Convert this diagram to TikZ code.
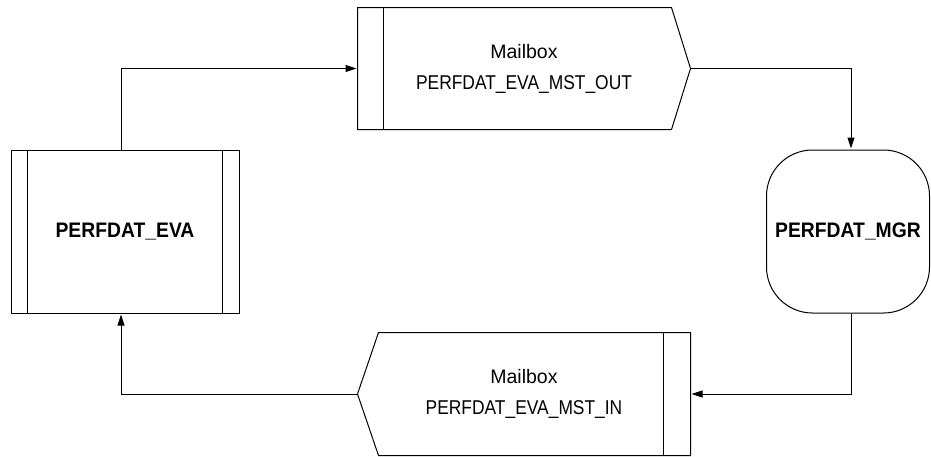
\documentclass[tikz,border=0pt]{standalone}
\usepackage{fontspec}
\usetikzlibrary{arrows.meta}
\newfontfamily\lblfont[FakeStretch=0.87]{Liberation Sans}
\newfontfamily\mbfont{Liberation Sans}
\newfontfamily\lblbold[FakeStretch=0.92]{Liberation Sans}
\newcommand{\mbword}{{\mbfont\fontsize{19.5}{31}\selectfont Mailbox}}
\begin{document}
\begin{tikzpicture}[x=1pt,y=-1pt,line width=1pt,
  procbox/.style={draw,rectangle,inner sep=0pt,minimum width=228pt,minimum height=163pt,
    font=\lblbold\bfseries\fontsize{21}{25}\selectfont},
  mgrbox/.style={draw,rectangle,rounded corners=46pt,inner sep=0pt,minimum width=163pt,minimum height=163pt,
    font=\lblbold\bfseries\fontsize{21}{25}\selectfont},
  mailbox/.style={rectangle,inner sep=0pt,minimum width=332pt,minimum height=121pt,align=center,
    font=\lblfont\fontsize{20}{31}\selectfont},
  arr/.style={-{Triangle[length=11pt,width=7pt]},shorten >=1pt}]
\useasboundingbox (0,0) rectangle (931,456);
% nodes
\node[procbox] (eva) at (125,231.5) {PERFDAT\_EVA};
\node[mgrbox] (mgr) at (848,231.5) {PERFDAT\_MGR};
\node[mailbox] (mbout) at (524,68.5) {\mbword\\PERFDAT\_EVA\_MST\_OUT};
\node[mailbox,minimum height=122pt] (mbin) at (524,394) {\mbword\\PERFDAT\_EVA\_MST\_IN};
% process box side bars
\draw ([xshift=17pt]eva.north west) -- ([xshift=17pt]eva.south west);
\draw ([xshift=-17pt]eva.north east) -- ([xshift=-17pt]eva.south east);
% outgoing mailbox outline
\draw (mbout.north west) -- ([xshift=-19pt]mbout.north east) -- (mbout.east)
  -- ([xshift=-19pt]mbout.south east) -- (mbout.south west) -- cycle;
\draw ([xshift=26pt]mbout.north west) -- ([xshift=26pt]mbout.south west);
% incoming mailbox outline
\draw (mbin.west) -- ([xshift=21pt]mbin.north west) -- (mbin.north east)
  -- (mbin.south east) -- ([xshift=21pt]mbin.south west) -- cycle;
\draw ([xshift=-27pt]mbin.north east) -- ([xshift=-27pt]mbin.south east);
% connectors
\draw[arr] ([xshift=-4pt]eva.north) |- (mbout.west);
\draw[arr] (mbout.east) -| ([xshift=3pt]mgr.north);
\draw[arr] ([xshift=3pt]mgr.south) |- (mbin.east);
\draw[arr] (mbin.west) -| ([xshift=-4pt]eva.south);
\end{tikzpicture}
\end{document}
